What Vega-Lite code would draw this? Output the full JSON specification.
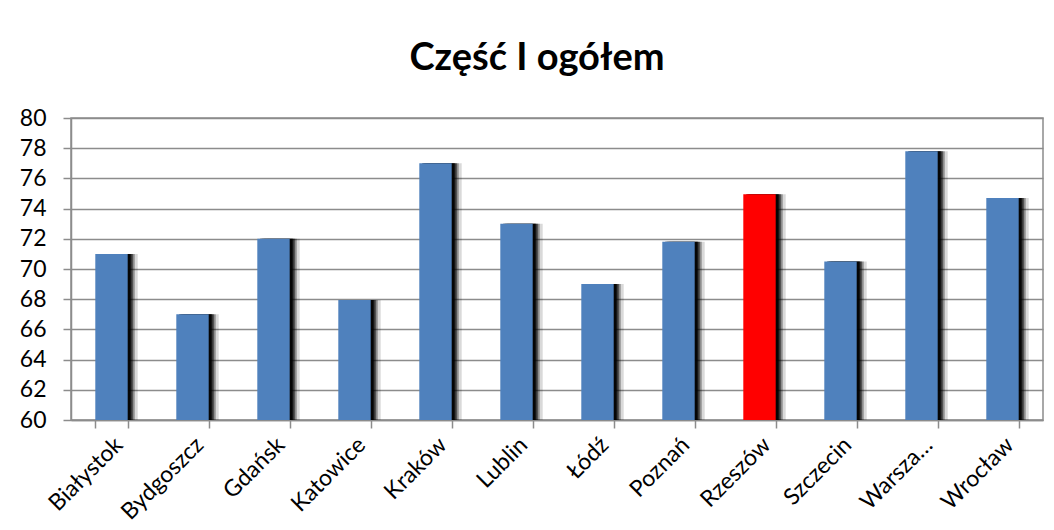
{
  "$schema": "https://vega.github.io/schema/vega-lite/v6.json",
  "width": 972,
  "height": 302,
  "autosize": {"type": "none"},
  "padding": {"left": 71, "top": 118, "right": 11, "bottom": 110},
  "background": "white",
  "title": {
    "text": "Część I ogółem",
    "font": "Lato",
    "fontSize": 38,
    "fontWeight": "bold",
    "color": "#000000",
    "anchor": "middle",
    "offset": 29,
    "dx": -20
  },
  "config": {
    "view": {"stroke": "#8c8c8c", "strokeWidth": 1.5},
    "font": "Lato"
  },
  "data": {
    "values": [
      {"miasto": "Białystok", "wynik": 71.0},
      {"miasto": "Bydgoszcz", "wynik": 67.0},
      {"miasto": "Gdańsk", "wynik": 72.0},
      {"miasto": "Katowice", "wynik": 67.95},
      {"miasto": "Kraków", "wynik": 77.0},
      {"miasto": "Lublin", "wynik": 73.0},
      {"miasto": "Łódź", "wynik": 69.0},
      {"miasto": "Poznań", "wynik": 71.8},
      {"miasto": "Rzeszów", "wynik": 74.95},
      {"miasto": "Szczecin", "wynik": 70.5},
      {"miasto": "Warsza…", "wynik": 77.8},
      {"miasto": "Wrocław", "wynik": 74.7}
    ]
  },
  "encoding": {
    "x": {
      "field": "miasto",
      "type": "nominal",
      "sort": null,
      "scale": {"paddingInner": 0.6, "paddingOuter": 0.3},
      "axis": {
        "title": null,
        "labelAngle": -45,
        "labelAlign": "right",
        "labelBaseline": "middle",
        "labelFont": "Lato",
        "labelFontSize": 23,
        "labelColor": "#000000",
        "labelPadding": 13,
        "labelOffset": 7,
        "labelOverlap": false,
        "tickSize": 8,
        "tickColor": "#8c8c8c",
        "tickWidth": 1.5,
        "tickBand": "extent",
        "domainColor": "#8c8c8c",
        "domainWidth": 1.5,
        "grid": false
      }
    },
    "y": {
      "field": "wynik",
      "type": "quantitative",
      "scale": {"domain": [60, 80], "nice": false, "zero": false},
      "axis": {
        "title": null,
        "values": [60, 62, 64, 66, 68, 70, 72, 74, 76, 78, 80],
        "labelFont": "Lato",
        "labelFontSize": 23,
        "labelColor": "#000000",
        "labelPadding": 17,
        "tickSize": 8,
        "tickColor": "#8c8c8c",
        "tickWidth": 1.5,
        "domainColor": "#8c8c8c",
        "domainWidth": 1.5,
        "gridColor": "#8c8c8c",
        "gridWidth": 1.5
      }
    },
    "y2": {"datum": 60}
  },
  "layer": [
    {"mark": {"type": "bar", "color": "#000000", "opacity": 0.15, "xOffset": 10}},
    {"mark": {"type": "bar", "color": "#000000", "opacity": 0.35, "xOffset": 7}},
    {"mark": {"type": "bar", "color": "#000000", "opacity": 0.6, "xOffset": 5}},
    {"mark": {"type": "bar", "color": "#000000", "opacity": 0.9, "xOffset": 3}},
    {
      "mark": {"type": "bar"},
      "encoding": {
        "color": {
          "condition": {"test": "datum.miasto === 'Rzeszów'", "value": "#FF0000"},
          "value": "#4F81BD"
        }
      }
    }
  ]
}
